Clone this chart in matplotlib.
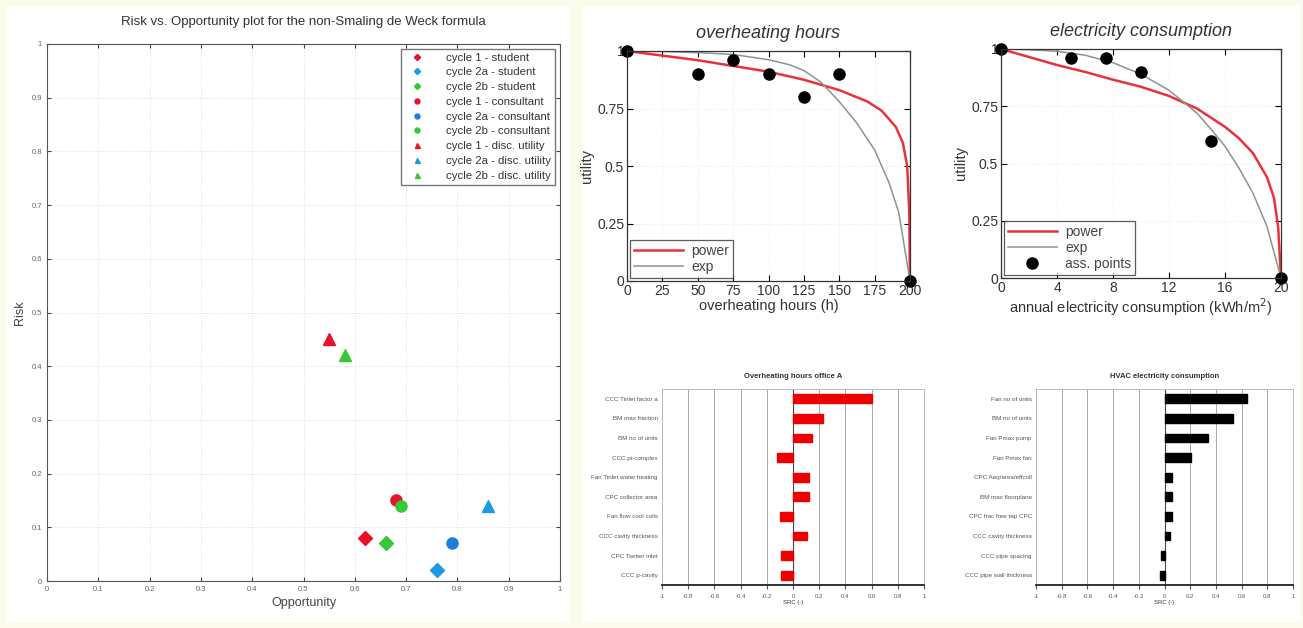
import matplotlib
matplotlib.use("Agg")
import matplotlib.pyplot as plt
from matplotlib.patches import Rectangle

plt.rcParams['font.family'] = ['Liberation Sans', 'DejaVu Sans']

W, H = 1303, 628

# ---- scatter data: risk vs opportunity ----
series_labels = ['cycle 1 - student', 'cycle 2a - student', 'cycle 2b - student',
                 'cycle 1 - consultant', 'cycle 2a - consultant', 'cycle 2b - consultant',
                 'cycle 1 - disc. utility', 'cycle 2a - disc. utility', 'cycle 2b - disc. utility']
series_opportunity = [0.62, 0.76, 0.66, 0.68, 0.79, 0.69, 0.55, 0.86, 0.58]
series_risk = [0.08, 0.02, 0.07, 0.15, 0.07, 0.14, 0.45, 0.14, 0.42]
series_colors = ['#e8132b', '#1c9be0', '#35c935', '#e8132b', '#1f7fd8', '#35c935',
                 '#e8132b', '#1c9be0', '#35c935']
series_markers = ['D', 'D', 'D', 'o', 'o', 'o', '^', '^', '^']

# ---- utility curves: overheating hours ----
oh_power_x = [0, 25, 50, 75, 100, 125, 150, 170, 180, 190, 195, 198, 199.5, 200]
oh_power_y = [1, 0.98, 0.96, 0.935, 0.91, 0.875, 0.83, 0.78, 0.74, 0.67, 0.6, 0.5, 0.3, 0]
oh_exp_x = [0, 25, 50, 75, 100, 115, 125, 137, 150, 162, 175, 185, 192, 200]
oh_exp_y = [1, 0.998, 0.993, 0.985, 0.962, 0.94, 0.915, 0.865, 0.78, 0.69, 0.57, 0.43, 0.30, 0]
oh_pts_x = [0, 50, 75, 100, 125, 150, 200]
oh_pts_y = [1, 0.9, 0.96, 0.9, 0.8, 0.9, 0]

# ---- utility curves: electricity consumption ----
el_power_x = [0, 2, 4, 6, 8, 10, 12, 14, 16, 17, 18, 19, 19.5, 19.8, 20]
el_power_y = [1, 0.965, 0.93, 0.9, 0.866, 0.835, 0.795, 0.74, 0.66, 0.61, 0.545, 0.44, 0.35, 0.22, 0]
el_exp_x = [0, 2, 4, 6, 8, 10, 12, 14, 15, 16, 17, 18, 19, 20]
el_exp_y = [1, 0.997, 0.99, 0.973, 0.94, 0.89, 0.82, 0.72, 0.65, 0.575, 0.48, 0.37, 0.225, 0]
el_pts_x = [0, 5, 7.5, 10, 15, 20]
el_pts_y = [1, 0.96, 0.96, 0.9, 0.6, 0]

# ---- sensitivity bars ----
oh_bar_labels = ['CCC Tinlet factor a', 'BM max fraction', 'BM no of units', 'CCC pi-complex',
                 'Fan Tinlet water heating', 'CPC collector area', 'Fan flow cool coils',
                 'CCC cavity thickness', 'CPC Tsetter inlet', 'CCC p-cavity']
oh_bar_values = [0.60, 0.23, 0.145, -0.12, 0.125, 0.125, -0.10, 0.105, -0.095, -0.095]
el_bar_labels = ['Fan no of units', 'BM no of units', 'Fan Pmax pump', 'Fan Pmax fan',
                 'CPC Aeq/area/effcoll', 'BM max floorplane', 'CPC frac free tap CPC',
                 'CCC cavity thickness', 'CCC pipe spacing', 'CCC pipe wall thickness']
el_bar_values = [0.64, 0.535, 0.34, 0.205, 0.06, 0.055, 0.055, 0.045, -0.03, -0.035]
bar_ticks = [-1, -0.8, -0.6, -0.4, -0.2, 0, 0.2, 0.4, 0.6, 0.8, 1]


def px_axes(fig, x0, y0, x1, y1):
    # pixel box (top-left origin) -> figure axes
    return fig.add_axes([x0 / W, 1 - y1 / H, (x1 - x0) / W, (y1 - y0) / H])


fig = plt.figure(figsize=(W / 100, H / 100), dpi=100)
fig.patch.set_facecolor('#fbfbec')
fig.patches.append(Rectangle((7 / W, 1 - 622 / H), 563 / W, 616 / H, transform=fig.transFigure,
                             facecolor='white', edgecolor='none', zorder=-10))
fig.patches.append(Rectangle((583 / W, 1 - 622 / H), 717 / W, 616 / H, transform=fig.transFigure,
                             facecolor='white', edgecolor='none', zorder=-10))

# 1. scatter
ax = px_axes(fig, 47, 44, 560, 581)
for lab, xo, yr, c, m in zip(series_labels, series_opportunity, series_risk, series_colors, series_markers):
    ax.plot([xo], [yr], linestyle='none', marker=m, color=c, markersize=8 if m != 'D' else 7, label=lab)
ax.set_xlim(0, 1)
ax.set_ylim(0, 1)
ticks01 = [i / 10 for i in range(11)]
tick_labels01 = ['0'] + ['%.1f' % t for t in ticks01[1:-1]] + ['1']
ax.set_xticks(ticks01)
ax.set_xticklabels(tick_labels01)
ax.set_yticks(ticks01)
ax.set_yticklabels(tick_labels01)
ax.tick_params(labelsize=5.5, labelcolor='#666666', direction='in', length=3, color='#444444',
               top=True, right=True)
ax.grid(True, linestyle=':', color='#d8d8d8', linewidth=0.6)
for s in ax.spines.values():
    s.set_color('#555555')
    s.set_linewidth(0.8)
ax.set_title('Risk vs. Opportunity plot for the non-Smaling de Weck formula', fontsize=9.5,
             color='#333333', pad=14)
ax.set_xlabel('Opportunity', fontsize=9, color='#444444', labelpad=3)
ax.set_ylabel('Risk', fontsize=9, color='#444444', labelpad=4)
leg = ax.legend(loc='upper right', fontsize=8.2, markerscale=0.45, frameon=True, fancybox=False,
                edgecolor='#555555', borderpad=0.35, labelspacing=0.42, handletextpad=1.6,
                borderaxespad=0.4)
leg.get_frame().set_linewidth(1.0)
for t in leg.get_texts():
    t.set_color('#333333')

# 2. utility curves
def utility_axes(x0, y0, x1, y1, px, py, ex, ey, ptx, pty, title, xlabel, xlim, xticks, with_pts_legend):
    a = px_axes(fig, x0, y0, x1, y1)
    a.plot(px, py, color='#e8323c', linewidth=1.8, label='power')
    a.plot(ex, ey, color='#8c9490', linewidth=1.1, label='exp')
    a.plot(ptx, pty, linestyle='none', marker='o', color='black', markersize=8,
           clip_on=False, label='ass. points')
    a.set_xlim(*xlim)
    a.set_ylim(0, 1)
    a.set_xticks(xticks)
    a.set_yticks([0, 0.25, 0.5, 0.75, 1])
    a.set_yticklabels(['0', '0.25', '0.5', '0.75', '1'])
    a.tick_params(labelsize=10, labelcolor='#333333', direction='in', length=4, top=True, right=True, pad=2)
    a.grid(True, linestyle=':', color='#e6e6e6', linewidth=0.6)
    for s in a.spines.values():
        s.set_color('#333333')
        s.set_linewidth(0.9)
    a.set_title(title, fontsize=13, style='italic', color='#333333', pad=9)
    a.set_xlabel(xlabel, fontsize=10.5, color='#333333', labelpad=1)
    a.set_ylabel('utility', fontsize=10.5, color='#333333', labelpad=2)
    handles, labels = a.get_legend_handles_labels()
    if not with_pts_legend:
        handles, labels = handles[:2], labels[:2]
    lg = a.legend(handles, labels, loc='lower left', fontsize=10, fancybox=False, frameon=True,
                  edgecolor='#333333', borderpad=0.3, labelspacing=0.15, handlelength=3.5,
                  handletextpad=0.6, borderaxespad=0.2)
    lg.get_frame().set_linewidth(0.9)
    for t in lg.get_texts():
        t.set_color('#444444')
    return a

utility_axes(627, 51, 910, 281, oh_power_x, oh_power_y, oh_exp_x, oh_exp_y, oh_pts_x, oh_pts_y,
             'overheating hours', 'overheating hours (h)', (0, 200),
             [0, 25, 50, 75, 100, 125, 150, 175, 200], False)
utility_axes(1001, 49, 1281, 278, el_power_x, el_power_y, el_exp_x, el_exp_y, el_pts_x, el_pts_y,
             'electricity consumption', 'annual electricity consumption (kWh/m$^2$)', (0, 20),
             [0, 4, 8, 12, 16, 20], True)

# 3. sensitivity bars
def bar_axes(x0, y0, x1, y1, labels, values, color, title):
    a = px_axes(fig, x0, y0, x1, y1)
    pos = list(range(len(labels)))
    a.barh(pos, values, height=0.45, color=color, edgecolor=color, zorder=3)
    a.set_xlim(-1, 1)
    a.set_ylim(len(labels) - 0.5, -0.5)
    a.set_yticks(pos)
    a.set_yticklabels(labels)
    a.set_xticks(bar_ticks)
    a.set_xticklabels(['-1', '-0.8', '-0.6', '-0.4', '-0.2', '0', '0.2', '0.4', '0.6', '0.8', '1'])
    a.tick_params(axis='y', length=0, labelsize=4.5, labelcolor='#555555', pad=3)
    a.tick_params(axis='x', length=3, direction='out', labelsize=4.3, labelcolor='#555555', color='#555555')
    a.grid(True, axis='x', color='#aaaaaa', linewidth=0.7, zorder=0)
    a.axvline(0, color='#444444', linewidth=0.8, zorder=2)
    for k, s in a.spines.items():
        s.set_color('#bbbbbb')
        s.set_linewidth(0.7)
    a.spines['bottom'].set_color('#222222')
    a.spines['bottom'].set_linewidth(1.3)
    a.set_title(title, fontsize=5.5, fontweight='bold', color='#333333', pad=8)
    a.set_xlabel('SRC (-)', fontsize=4.3, color='#333333', labelpad=1)
    return a

bar_axes(662, 389, 924, 585, oh_bar_labels, oh_bar_values, '#ee0000', 'Overheating hours office A')
bar_axes(1036, 389, 1293, 585, el_bar_labels, el_bar_values, '#000000', 'HVAC electricity consumption')

fig.savefig('out.png', dpi=100, facecolor=fig.get_facecolor())
